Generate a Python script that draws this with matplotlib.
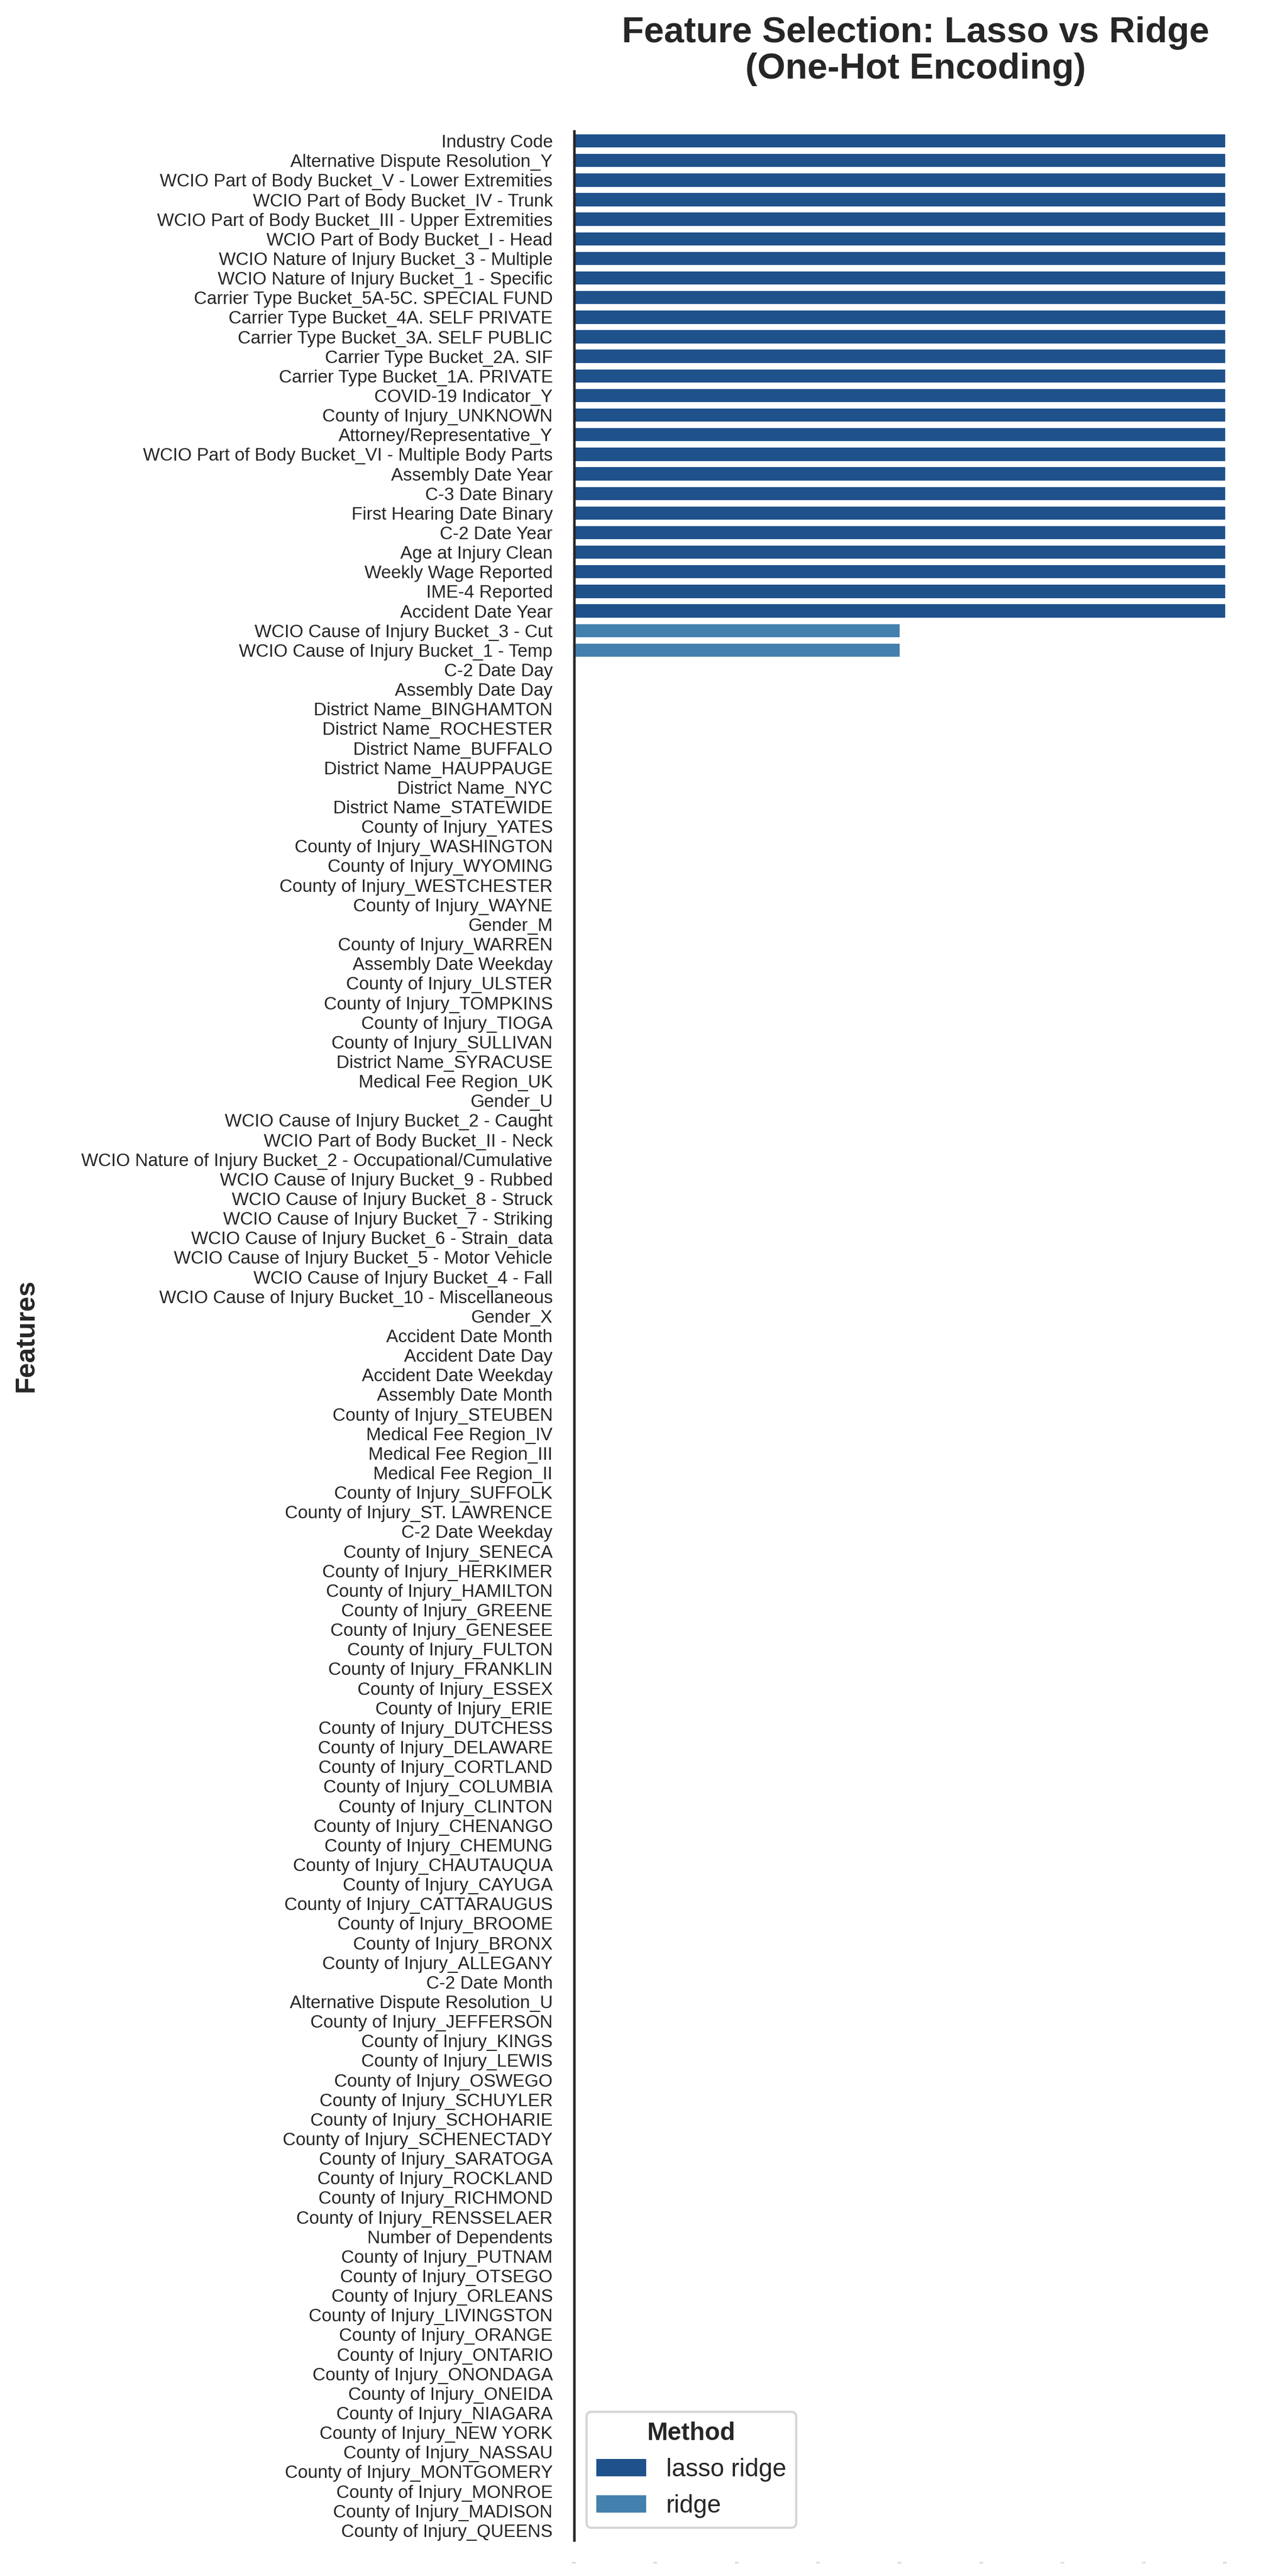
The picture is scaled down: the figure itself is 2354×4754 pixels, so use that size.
import numpy as np
import matplotlib
matplotlib.use("Agg")
import matplotlib.pyplot as plt
from matplotlib.patches import Patch

plt.rcParams["font.family"] = ["Liberation Sans", "DejaVu Sans"]
plt.rcParams["text.color"] = "#262626"

# ── Data (top to bottom) ──────────────────────────────────────────────────────
features = [
    "Industry Code", "Alternative Dispute Resolution_Y",
    "WCIO Part of Body Bucket_V - Lower Extremities", "WCIO Part of Body Bucket_IV - Trunk",
    "WCIO Part of Body Bucket_III - Upper Extremities", "WCIO Part of Body Bucket_I - Head",
    "WCIO Nature of Injury Bucket_3 - Multiple", "WCIO Nature of Injury Bucket_1 - Specific",
    "Carrier Type Bucket_5A-5C. SPECIAL FUND", "Carrier Type Bucket_4A. SELF PRIVATE",
    "Carrier Type Bucket_3A. SELF PUBLIC", "Carrier Type Bucket_2A. SIF",
    "Carrier Type Bucket_1A. PRIVATE", "COVID-19 Indicator_Y", "County of Injury_UNKNOWN",
    "Attorney/Representative_Y", "WCIO Part of Body Bucket_VI - Multiple Body Parts",
    "Assembly Date Year", "C-3 Date Binary", "First Hearing Date Binary", "C-2 Date Year",
    "Age at Injury Clean", "Weekly Wage Reported", "IME-4 Reported", "Accident Date Year",
    "WCIO Cause of Injury Bucket_3 - Cut", "WCIO Cause of Injury Bucket_1 - Temp",
    "C-2 Date Day", "Assembly Date Day", "District Name_BINGHAMTON", "District Name_ROCHESTER",
    "District Name_BUFFALO", "District Name_HAUPPAUGE", "District Name_NYC",
    "District Name_STATEWIDE", "County of Injury_YATES", "County of Injury_WASHINGTON",
    "County of Injury_WYOMING", "County of Injury_WESTCHESTER", "County of Injury_WAYNE",
    "Gender_M", "County of Injury_WARREN", "Assembly Date Weekday", "County of Injury_ULSTER",
    "County of Injury_TOMPKINS", "County of Injury_TIOGA", "County of Injury_SULLIVAN",
    "District Name_SYRACUSE", "Medical Fee Region_UK", "Gender_U",
    "WCIO Cause of Injury Bucket_2 - Caught", "WCIO Part of Body Bucket_II - Neck",
    "WCIO Nature of Injury Bucket_2 - Occupational/Cumulative",
    "WCIO Cause of Injury Bucket_9 - Rubbed", "WCIO Cause of Injury Bucket_8 - Struck",
    "WCIO Cause of Injury Bucket_7 - Striking", "WCIO Cause of Injury Bucket_6 - Strain_data",
    "WCIO Cause of Injury Bucket_5 - Motor Vehicle", "WCIO Cause of Injury Bucket_4 - Fall",
    "WCIO Cause of Injury Bucket_10 - Miscellaneous", "Gender_X", "Accident Date Month",
    "Accident Date Day", "Accident Date Weekday", "Assembly Date Month",
    "County of Injury_STEUBEN", "Medical Fee Region_IV", "Medical Fee Region_III",
    "Medical Fee Region_II", "County of Injury_SUFFOLK", "County of Injury_ST. LAWRENCE",
    "C-2 Date Weekday", "County of Injury_SENECA", "County of Injury_HERKIMER",
    "County of Injury_HAMILTON", "County of Injury_GREENE", "County of Injury_GENESEE",
    "County of Injury_FULTON", "County of Injury_FRANKLIN", "County of Injury_ESSEX",
    "County of Injury_ERIE", "County of Injury_DUTCHESS", "County of Injury_DELAWARE",
    "County of Injury_CORTLAND", "County of Injury_COLUMBIA", "County of Injury_CLINTON",
    "County of Injury_CHENANGO", "County of Injury_CHEMUNG", "County of Injury_CHAUTAUQUA",
    "County of Injury_CAYUGA", "County of Injury_CATTARAUGUS", "County of Injury_BROOME",
    "County of Injury_BRONX", "County of Injury_ALLEGANY", "C-2 Date Month",
    "Alternative Dispute Resolution_U", "County of Injury_JEFFERSON", "County of Injury_KINGS",
    "County of Injury_LEWIS", "County of Injury_OSWEGO", "County of Injury_SCHUYLER",
    "County of Injury_SCHOHARIE", "County of Injury_SCHENECTADY", "County of Injury_SARATOGA",
    "County of Injury_ROCKLAND", "County of Injury_RICHMOND", "County of Injury_RENSSELAER",
    "Number of Dependents", "County of Injury_PUTNAM", "County of Injury_OTSEGO",
    "County of Injury_ORLEANS", "County of Injury_LIVINGSTON", "County of Injury_ORANGE",
    "County of Injury_ONTARIO", "County of Injury_ONONDAGA", "County of Injury_ONEIDA",
    "County of Injury_NIAGARA", "County of Injury_NEW YORK", "County of Injury_NASSAU",
    "County of Injury_MONTGOMERY", "County of Injury_MONROE", "County of Injury_MADISON",
    "County of Injury_QUEENS",
]
# number of methods that selected each feature
n_selected = [2] * 25 + [1] * 2 + [0] * 96
method = ["lasso ridge"] * 25 + ["ridge"] * 2 + [""] * 96
method_colors = {"lasso ridge": "#1f518b", "ridge": "#4480ae", "": "#ffffff"}
x_ticks = [0.0, 0.25, 0.5, 0.75, 1.0, 1.25, 1.5, 1.75, 2.0]

W, H, DPI = 2354, 4754, 300
fig = plt.figure(figsize=(W / DPI, H / DPI), dpi=DPI)
ax = fig.add_axes([1060 / W, 1 - 4688 / H, 1202 / W, (4688 - 242) / H])

y = np.arange(len(features))
ax.barh(y, n_selected, height=0.675,
        color=[method_colors[m] for m in method], linewidth=0)

ax.set_ylim(len(features) - 0.5, -0.5)
ax.set_xlim(0, 2)
ax.set_yticks(y)
ax.set_yticklabels(features, fontsize=7.95, color="#262626")
ax.tick_params(axis="y", left=False, length=6, pad=3.5)
ax.set_xticks(x_ticks)
ax.set_xticklabels([f"{v:.2f}" for v in x_ticks], fontsize=0.8, color="#888888")
ax.tick_params(axis="x", bottom=False, length=6, pad=3.5)

for s in ["top", "right", "bottom"]:
    ax.spines[s].set_visible(False)
ax.spines["left"].set_color("#262626")
ax.spines["left"].set_linewidth(1.1)

ax.set_ylabel("Features", fontsize=12, fontweight="bold", color="#262626")
ax.yaxis.set_label_coords((72 - 1060) / 1202, 0.5)

fig.text(1690 / W, 1 - 30 / H, "Feature Selection: Lasso vs Ridge\n(One-Hot Encoding)",
         ha="center", va="top", fontsize=16, fontweight="bold", color="#262626",
         linespacing=1.1)

handles = [Patch(facecolor=method_colors[m], label=m) for m in ["lasso ridge", "ridge"]]
leg = ax.legend(handles=handles, title="Method", loc="lower left", fontsize=11,
                title_fontproperties={"weight": "bold", "size": 11},
                bbox_to_anchor=(0.0, 0.0))

fig.savefig("out.png", dpi=DPI)
